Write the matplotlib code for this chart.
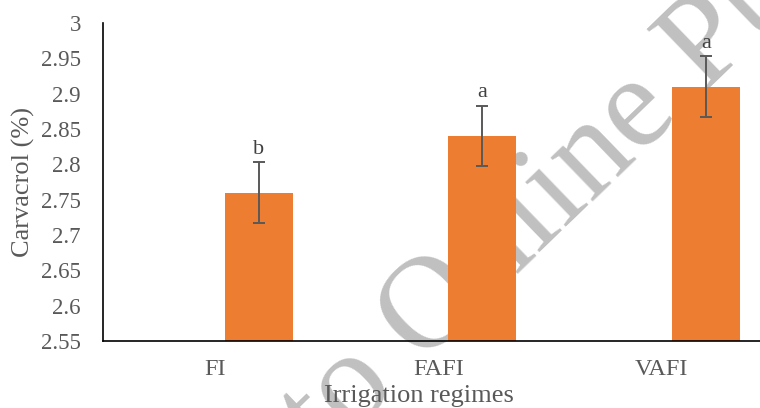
import matplotlib
matplotlib.use("Agg")
import matplotlib.pyplot as plt
import numpy as np

# Carvacrol content under three irrigation regimes
regimes = ["FI", "FAFI", "VAFI"]
carvacrol = [2.76, 2.84, 2.91]
std_err = [0.043, 0.043, 0.043]
groups = ["b", "a", "a"]

yticks = [2.55, 2.6, 2.65, 2.7, 2.75, 2.8, 2.85, 2.9, 2.95, 3.0]
ytick_labels = ["2.55", "2.6", "2.65", "2.7", "2.75", "2.8", "2.85", "2.9", "2.95", "3"]

BAR = "#ED7D31"
GREY = "#595959"
SERIF = ["Liberation Serif", "DejaVu Serif"]

W, H = 760, 408
fig = plt.figure(figsize=(W / 100, H / 100), dpi=100)

# background stamp text, drawn beneath the axes
stamp = "Accepted to Online Publication"
stamp_fs = 95
stamp_rot = 44
renderer = fig.canvas.get_renderer()


def text_width(s):
    t = fig.text(0, 0, s, fontsize=stamp_fs, family=SERIF)
    w = t.get_window_extent(renderer).width
    t.remove()
    return w


lead_w = text_width("Accepted to x") - text_width("x")
ang = np.deg2rad(stamp_rot)
x0, y0 = 422, H - 366  # baseline start of "Online" in pixels
fig.text((x0 - lead_w * np.cos(ang)) / W, (y0 - lead_w * np.sin(ang)) / H, stamp,
         fontsize=stamp_fs, family=SERIF, color="#c0c0c0", rotation=stamp_rot,
         rotation_mode="anchor", ha="left", va="baseline", zorder=0)

ax = fig.add_axes([103 / W, 1 - 341 / H, 670.5 / W, 318 / H])
ax.set_facecolor("none")
ax.set_zorder(1)

x = np.arange(len(regimes))
ax.bar(x + 0.197, carvacrol, width=0.304, bottom=0, color=BAR, zorder=2)
ax.errorbar(x + 0.197, carvacrol, yerr=std_err, fmt="none", ecolor=GREY,
            elinewidth=1.4, capsize=4.5, capthick=1.4, zorder=3)
for xi, v, e, g in zip(x, carvacrol, std_err, groups):
    ax.annotate(g, (xi + 0.197, v + e), xytext=(0, 6), textcoords="offset points",
                ha="center", va="baseline", fontsize=16, family=SERIF,
                color="#404040", zorder=4)

ax.set_xlim(-0.5, 2.5)
ax.set_ylim(2.55, 3.0)
ax.set_yticks(yticks)
ax.set_yticklabels(ytick_labels)
ax.set_xticks(x)
ax.set_xticklabels(regimes)
ax.tick_params(axis="both", length=0, labelcolor=GREY)
ax.tick_params(axis="y", pad=16, labelsize=16.5)
ax.tick_params(axis="x", pad=13, labelsize=17.5)
for lab in ax.get_xticklabels() + ax.get_yticklabels():
    lab.set_family(SERIF)

for s in ["top", "right"]:
    ax.spines[s].set_visible(False)
for s in ["left", "bottom"]:
    ax.spines[s].set_color("black")
    ax.spines[s].set_linewidth(1.2)

fig.text(23 / W, 1 - 182 / H, "Carvacrol (%)", rotation=90, ha="center",
         va="center", fontsize=19, family=SERIF, color=GREY)
fig.text(419 / W, 1 - 402 / H, "Irrigation regimes", ha="center",
         va="baseline", fontsize=19, family=SERIF, color=GREY)

fig.savefig("out.png", dpi=100)
